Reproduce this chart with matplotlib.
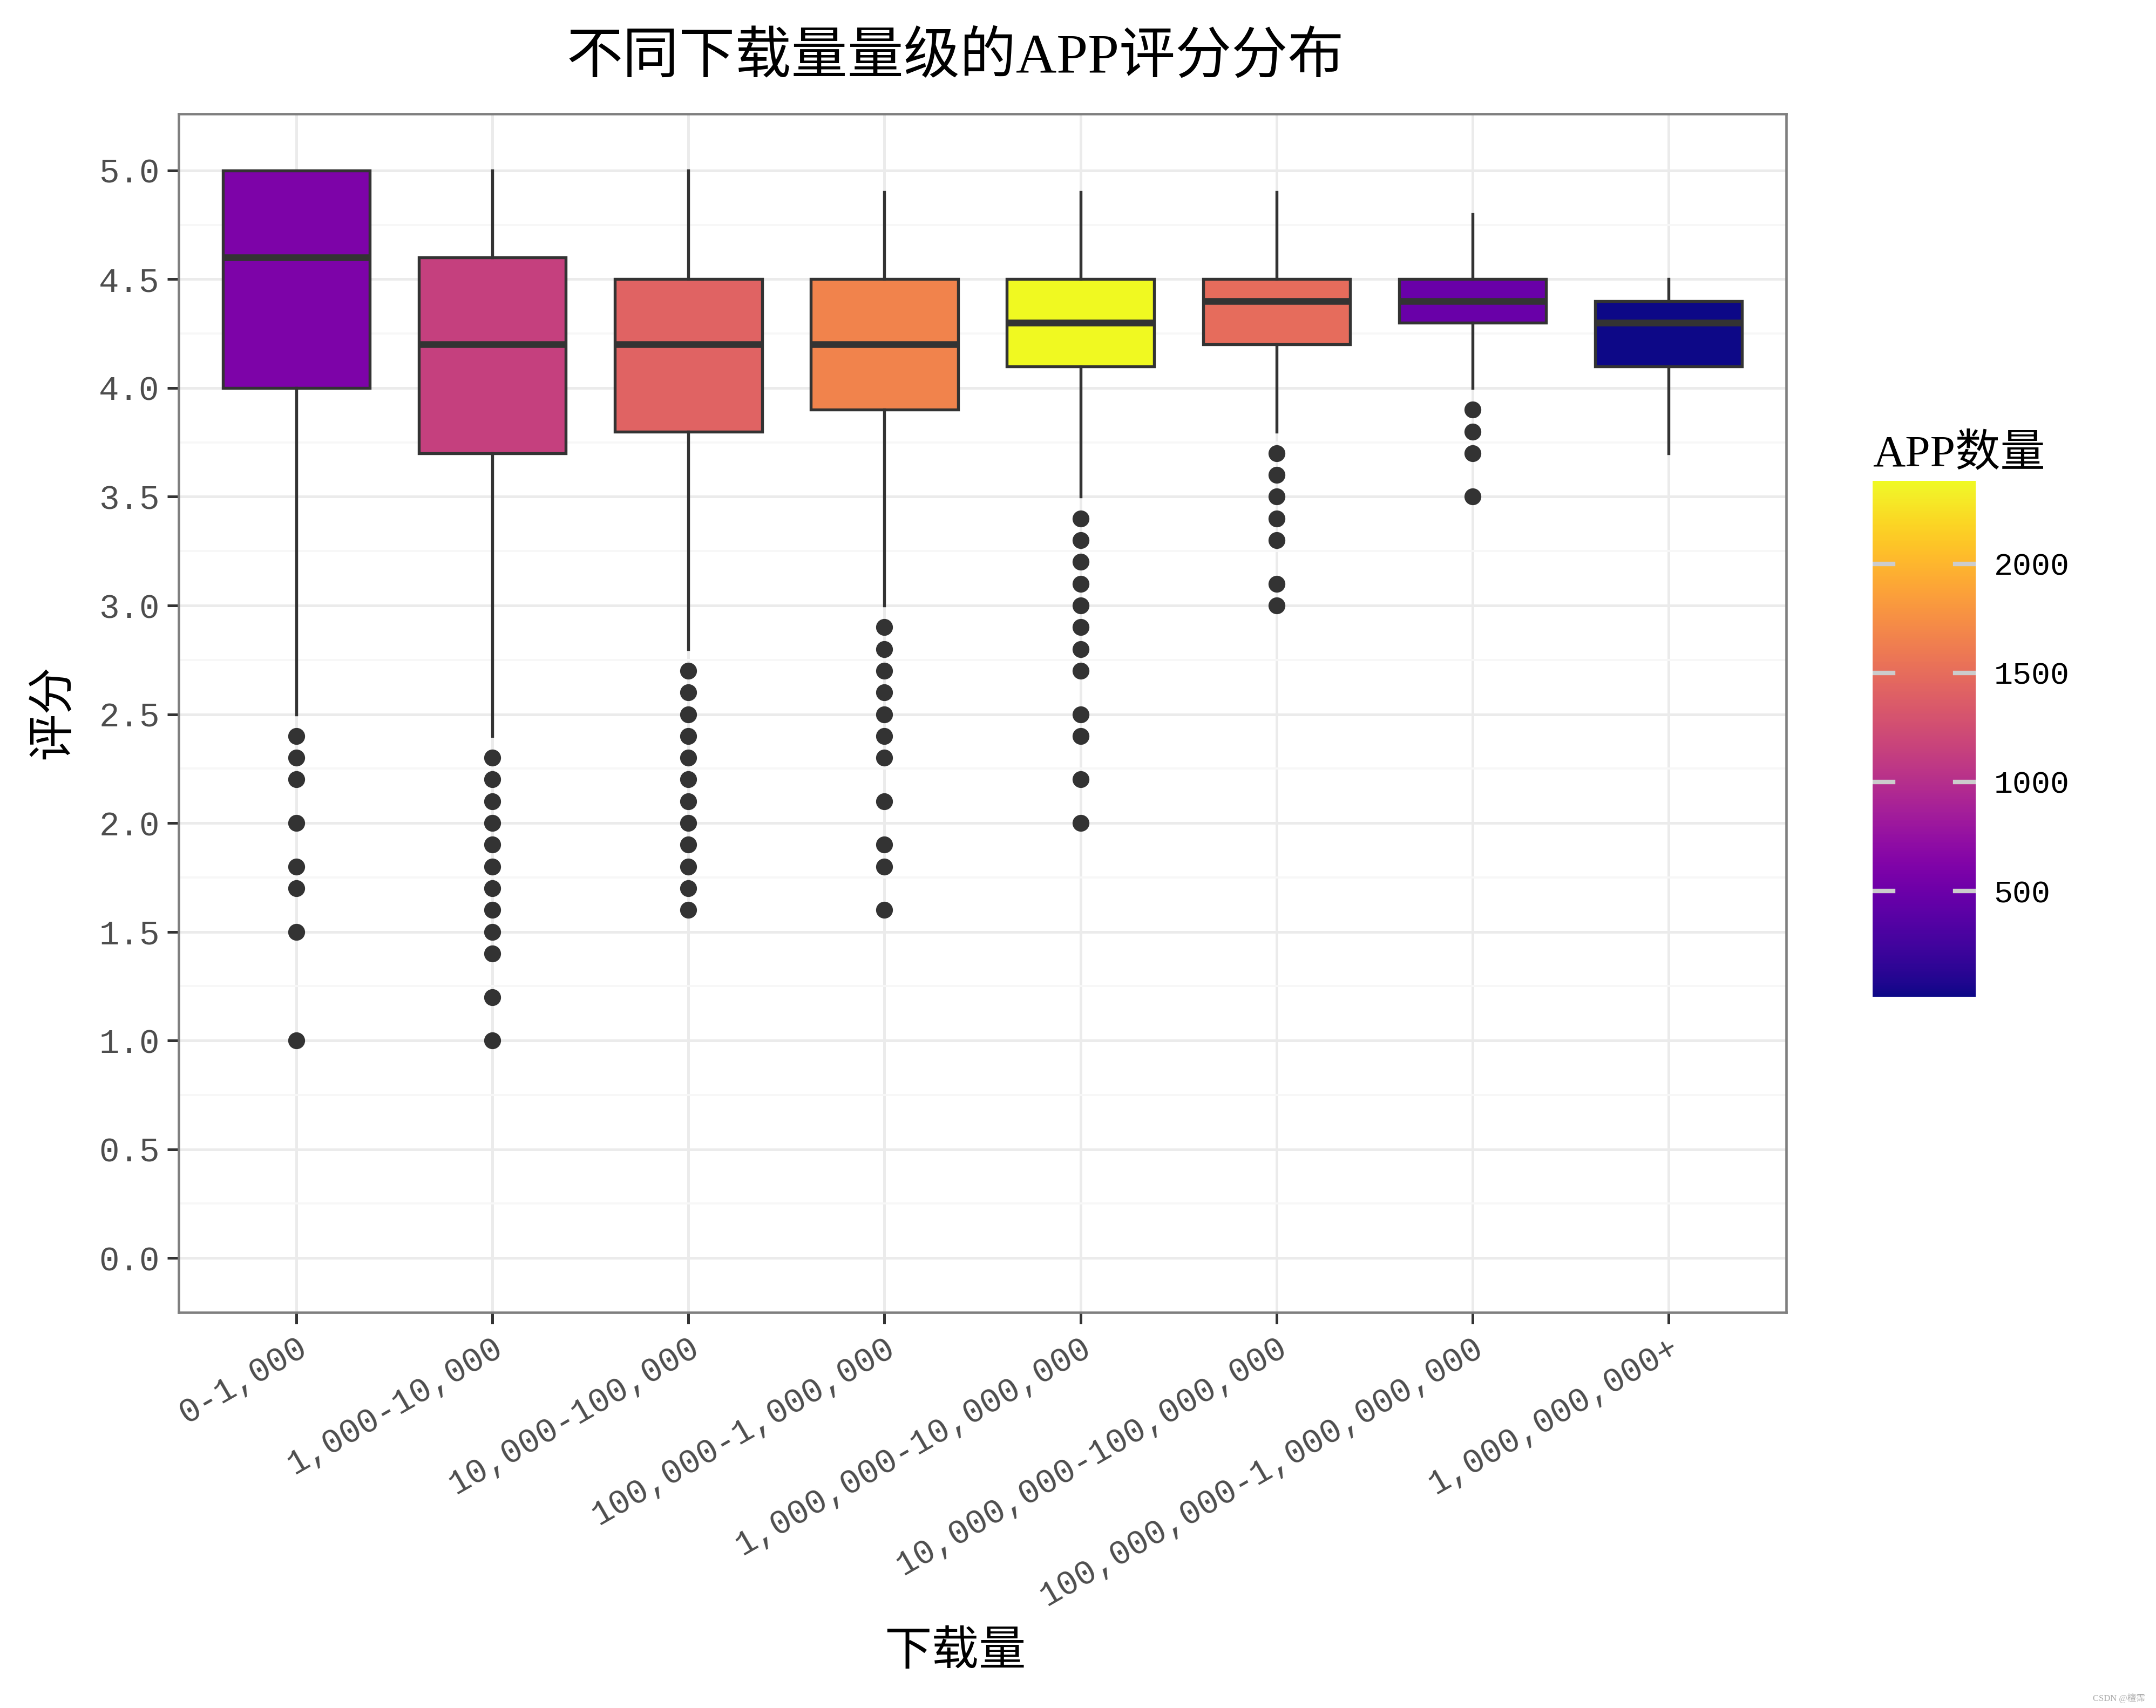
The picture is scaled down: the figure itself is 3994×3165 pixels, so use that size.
import matplotlib
matplotlib.use("Agg")
import matplotlib.pyplot as plt
import matplotlib.colors as mcolors
import matplotlib.cm as cm

plt.rcParams['font.family'] = ['Liberation Serif', 'Noto Sans CJK SC']
MONO = ['Liberation Mono', 'Noto Sans CJK SC']

# download tiers and rating box stats
tiers = ['0-1,000', '1,000-10,000', '10,000-100,000', '100,000-1,000,000',
         '1,000,000-10,000,000', '10,000,000-100,000,000',
         '100,000,000-1,000,000,000', '1,000,000,000+']
q1 = [4.0, 3.7, 3.8, 3.9, 4.1, 4.2, 4.3, 4.1]
med = [4.6, 4.2, 4.2, 4.2, 4.3, 4.4, 4.4, 4.3]
q3 = [5.0, 4.6, 4.5, 4.5, 4.5, 4.5, 4.5, 4.4]
whislo = [2.5, 2.4, 2.8, 3.0, 3.5, 3.8, 4.0, 3.7]
whishi = [5.0, 5.0, 5.0, 4.9, 4.9, 4.9, 4.8, 4.5]
outliers = [
    [2.4, 2.3, 2.2, 2.0, 1.8, 1.7, 1.5, 1.0],
    [2.3, 2.2, 2.1, 2.0, 1.9, 1.8, 1.7, 1.6, 1.5, 1.4, 1.2, 1.0],
    [2.7, 2.6, 2.5, 2.4, 2.3, 2.2, 2.1, 2.0, 1.9, 1.8, 1.7, 1.6],
    [2.9, 2.8, 2.7, 2.6, 2.5, 2.4, 2.3, 2.1, 1.9, 1.8, 1.6],
    [3.4, 3.3, 3.2, 3.1, 3.0, 2.9, 2.8, 2.7, 2.5, 2.4, 2.2, 2.0],
    [3.7, 3.6, 3.5, 3.4, 3.3, 3.1, 3.0],
    [3.9, 3.8, 3.7, 3.5],
    [],
]
# number of apps per tier (fill colour)
app_count = [600, 1140, 1420, 1660, 2380, 1500, 480, 15]

fig = plt.figure(figsize=(3994 / 300, 3165 / 300), dpi=300)
ax = fig.add_axes([0.0829, 0.2316, 0.7456, 0.7017])

norm = mcolors.Normalize(vmin=min(app_count), vmax=max(app_count))
cmap = plt.get_cmap('plasma')

# grid
ax.set_axisbelow(True)
ax.set_yticks([i * 0.5 for i in range(11)])
ax.set_yticks([0.25 + i * 0.5 for i in range(10)], minor=True)
ax.grid(which='major', axis='both', color='#ebebeb', lw=1.2)
ax.grid(which='minor', axis='y', color='#f7f7f7', lw=0.9)

stats = []
for i in range(len(tiers)):
    stats.append(dict(q1=q1[i], med=med[i], q3=q3[i], whislo=whislo[i],
                      whishi=whishi[i], fliers=outliers[i], label=tiers[i]))

pos = list(range(1, len(tiers) + 1))
bp = ax.bxp(stats, positions=pos, widths=0.75, patch_artist=True, showcaps=False,
            boxprops=dict(edgecolor='#333333', lw=1.3),
            whiskerprops=dict(color='#333333', lw=1.3),
            medianprops=dict(color='#333333', lw=3.0, solid_capstyle='butt'),
            flierprops=dict(marker='o', markerfacecolor='#333333',
                            markeredgecolor='#333333', markersize=6.5))
for patch, c in zip(bp['boxes'], app_count):
    patch.set_facecolor(cmap(norm(c)))

ax.set_xlim(0.4, 8.6)
ax.set_ylim(-0.25, 5.26)
ax.set_xticks(pos)
ax.set_xticklabels(tiers, rotation=30, ha='right', rotation_mode='anchor',
                   fontsize=15, color='#4d4d4d', family=MONO)
ax.set_yticklabels(['%.1f' % v for v in ax.get_yticks()], fontsize=15,
                   color='#4d4d4d', family=MONO)
ax.tick_params(axis='both', which='major', length=5, width=1.2, color='#333333')
ax.tick_params(axis='y', which='minor', length=0)
for s in ax.spines.values():
    s.set_color('#7f7f7f')
    s.set_linewidth(1.1)

fig.text(0.443, 0.032, '下载量', fontsize=21, ha='center', va='center')
fig.text(0.0255, 0.583, '评分', fontsize=21, ha='center', va='center', rotation=90)
fig.text(0.443, 0.966, '不同下载量量级的APP评分分布', fontsize=25,
         ha='center', va='center')

# colour bar legend
cax = fig.add_axes([0.8686, 0.4164, 0.0478, 0.302])
sm = cm.ScalarMappable(norm=norm, cmap=cmap)
cb = fig.colorbar(sm, cax=cax)
cb.outline.set_visible(False)
cbar_ticks = [500, 1000, 1500, 2000]
cb.set_ticks(cbar_ticks)
cb.set_ticklabels([str(t) for t in cbar_ticks])
cax.tick_params(length=0, labelsize=14, pad=8)
for lab in cax.get_yticklabels():
    lab.set_family(MONO)
for t in cbar_ticks:
    cax.plot([0, 0.2], [t, t], color='#cccccc', lw=2, transform=cax.get_yaxis_transform())
    cax.plot([0.8, 1.0], [t, t], color='#cccccc', lw=2, transform=cax.get_yaxis_transform())
fig.text(0.8686, 0.7215, 'APP数量', fontsize=20, ha='left', va='bottom')

fig.text(0.995, 0.003, 'CSDN @檀霈', fontsize=4, color='#aaaaaa', ha='right', va='bottom')

fig.savefig('out.png', dpi=300)
